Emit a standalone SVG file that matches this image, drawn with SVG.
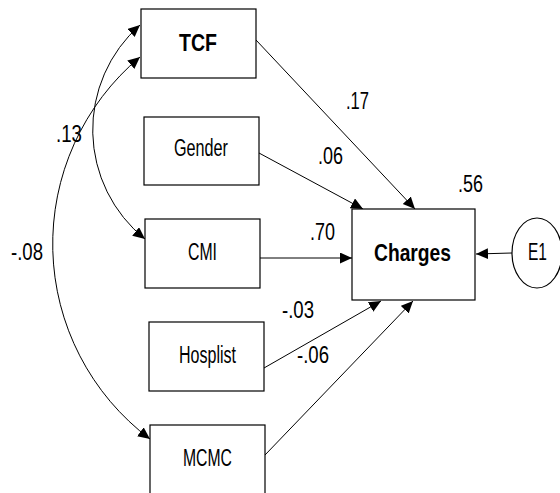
<svg xmlns="http://www.w3.org/2000/svg" width="560" height="493" viewBox="0 0 560 493">
<style>
.box{fill:#fff;stroke:#000;stroke-width:1.2}
.ln{fill:none;stroke:#000;stroke-width:1}
.t{font-family:"Liberation Sans",Arial,sans-serif;font-size:23px;fill:#000}
.b{font-family:"Liberation Sans",Arial,sans-serif;font-size:24px;font-weight:bold;fill:#000}
</style>
<defs>
<marker id="ah" markerUnits="userSpaceOnUse" markerWidth="13" markerHeight="12" refX="12" refY="5.5" orient="auto-start-reverse">
<path d="M0,0 L12,5.5 L0,11 z" fill="#000"/>
</marker>
</defs>
<rect width="560" height="493" fill="#fff"/>
<g id="connectors">
<path class="ln" d="M256,40 L415,209" marker-end="url(#ah)"/>
<path class="ln" d="M259,153 L363,209" marker-end="url(#ah)"/>
<path class="ln" d="M260,258 L352,258" marker-end="url(#ah)"/>
<path class="ln" d="M264,368 L381,301" marker-end="url(#ah)"/>
<path class="ln" d="M265,455 L413,301" marker-end="url(#ah)"/>
<path class="ln" d="M512,253 L476,254" marker-end="url(#ah)"/>
<path class="ln" d="M140,25 A140,140 0 0 0 145,239" marker-start="url(#ah)" marker-end="url(#ah)"/>
<path class="ln" d="M140,57 A244,244 0 0 0 150,439" marker-start="url(#ah)" marker-end="url(#ah)"/>
<text class="t" x="346" y="109" textLength="23" lengthAdjust="spacingAndGlyphs">.17</text>
<text class="t" x="318" y="164" textLength="25" lengthAdjust="spacingAndGlyphs">.06</text>
<text class="t" x="310" y="240" textLength="25" lengthAdjust="spacingAndGlyphs">.70</text>
<text class="t" x="282" y="318" textLength="32" lengthAdjust="spacingAndGlyphs">-.03</text>
<text class="t" x="297" y="363" textLength="32" lengthAdjust="spacingAndGlyphs">-.06</text>
<text class="t" x="56" y="142" textLength="26" lengthAdjust="spacingAndGlyphs">.13</text>
<text class="t" x="11" y="260" textLength="32" lengthAdjust="spacingAndGlyphs">-.08</text>
</g>
<g id="TCF">
<rect class="box" x="141" y="9" width="115" height="69"/>
<text class="b" x="179" y="51" textLength="38" lengthAdjust="spacingAndGlyphs">TCF</text>
</g>
<g id="Gender">
<rect class="box" x="144" y="117" width="115" height="68"/>
<text class="t" x="174" y="156" textLength="54" lengthAdjust="spacingAndGlyphs">Gender</text>
</g>
<g id="CMI">
<rect class="box" x="145" y="219" width="115" height="69"/>
<text class="t" x="188" y="260" textLength="29" lengthAdjust="spacingAndGlyphs">CMI</text>
</g>
<g id="Hosplist">
<rect class="box" x="149" y="322" width="115" height="69"/>
<text class="t" x="179" y="363" textLength="57" lengthAdjust="spacingAndGlyphs">Hosplist</text>
</g>
<g id="MCMC">
<rect class="box" x="150" y="425" width="115" height="75"/>
<text class="t" x="183" y="466" textLength="49" lengthAdjust="spacingAndGlyphs">MCMC</text>
</g>
<g id="Charges">
<rect class="box" x="352" y="209" width="123" height="91"/>
<text class="b" x="374" y="261" textLength="77" lengthAdjust="spacingAndGlyphs">Charges</text>
<text class="t" x="458" y="192" textLength="25" lengthAdjust="spacingAndGlyphs">.56</text>
</g>
<g id="E1">
<ellipse class="box" cx="537" cy="253" rx="25" ry="35"/>
<text class="t" x="528" y="260" textLength="19" lengthAdjust="spacingAndGlyphs">E1</text>
</g>
</svg>
